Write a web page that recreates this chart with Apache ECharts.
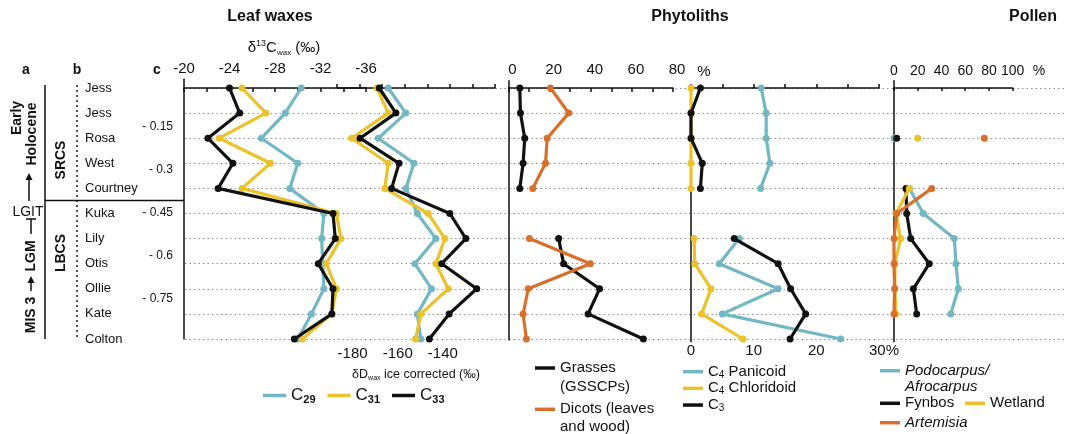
<!DOCTYPE html>
<html><head><meta charset="utf-8">
<script src="https://cdn.jsdelivr.net/npm/echarts@6/dist/echarts.min.js"></script>
<style>html,body{margin:0;padding:0;background:#fff}#c{width:1074px;height:434px}</style>
</head><body><div id="c"></div>
<script>
// ---------- data ----------
const sites = ['Jess','Jess','Rosa','West','Courtney','Kuka','Lily','Otis','Ollie','Kate','Colton'];
const depthTicks = [0.15, 0.3, 0.45, 0.6, 0.75];
const d13cTicks = [-20, -24, -28, -32, -36];
const dDTicks = [-180, -160, -140];

const d13C_C29 = [-30.3,-28.9,-26.8,-30.0,-29.3,-32.3,-32.1,-32.2,-32.3,-31.2,-30.0];
const d13C_C31 = [-25.1,-27.2,-23.1,-27.6,-25.1,-33.4,-33.8,-32.5,-33.4,-33.0,-30.4];
const d13C_C33 = [-24.0,-24.9,-22.1,-24.3,-23.0,-33.1,-33.3,-31.8,-33.1,-33.0,-29.7];

const dD_C29 = [-167.3,-159.5,-171.7,-155.9,-159.5,-154.4,-146.2,-155.5,-148.1,-154.4,-152.9];
const dD_C31 = [-172.3,-167.3,-183.5,-167.3,-168.8,-149.6,-142.2,-146.2,-140.7,-152.8,-155.2];
const dD_C33 = [-171.3,-163.9,-179.8,-162.5,-165.8,-140.0,-132.9,-143.6,-128.1,-140.3,-149.1];

const grasses = [5.5,5.8,7.9,7.1,5.5,null,24.4,26.8,44.3,38.7,65.6];
const dicots  = [20.4,29.3,18.8,18.0,11.8,null,10.2,39.8,9.6,7.1,8.7];

const panicoid   = [11.2,12.0,12.0,12.6,11.1,null,7.7,4.5,13.9,5.0,23.9];
const chloridoid = [0,0,0,0,0,null,0.5,0.6,3.2,1.7,8.3];
const c3         = [1.5,0,0,1.8,1.5,null,6.9,13.9,15.9,18.3,15.8];

const podocarpus = [null,null,0,null,12.9,24.7,50.8,52.2,54.2,47.8,null];
const fynbos     = [null,null,2.3,null,10.1,10.7,14.1,29.7,16.3,19.1,null];
const wetland    = [null,null,20.0,null,12.9,1.7,5.6,0.8,0.8,1.7,null];
const artemisia  = [null,null,76.1,null,31.8,2.3,0,0,0.5,0,null];

// ---------- style ----------
const FONT = '"Liberation Sans", Arial, Helvetica, sans-serif';
const CY = '#72b8c4', YE = '#ebc229', BK = '#111111', OR = '#d8702b';
const AX = {color:'#111', width:1.5};
const Y0 = 88, ROW = 25.1;

const grids = [
  {left:185, top:88, width:882, height:251},      // 0 background rows
  {left:184, top:79.3, width:182, height:259.7},  // 1 d13C
  {left:337, top:88, width:158, height:254.7},    // 2 dD
  {left:508.5, top:80.7, width:164.5, height:259.3}, // 3 phyto 1
  {left:691, top:86, width:188, height:255.7},    // 4 phyto 2
  {left:894, top:80.7, width:118.7, height:261},  // 5 pollen
  {left:174, top:83.8, width:1, height:257.4}     // 6 depth
];

function rowAxis(gi, showLine){
  const g = grids[gi];
  return {gridIndex:gi, type:'value', inverse:true,
    min:(g.top - Y0)/ROW, max:(g.top + g.height - Y0)/ROW,
    axisLine:{show:showLine, lineStyle:AX}, axisTick:{show:false},
    axisLabel:{show:false}, splitLine:{show:false}};
}
function ser(name, arr, color, gi, z){
  return {name, type:'line', xAxisIndex:gi, yAxisIndex:gi, z:z||2,
    data: arr.map((v,i)=>[v==null?'-':v, i]),
    lineStyle:{color, width:3.2}, itemStyle:{color},
    symbol:'circle', symbolSize:7, showSymbol:true, connectNulls:false,
    emphasis:{disabled:true}, silent:true};
}
const lblBase = {color:'#111', fontSize:15, fontFamily:FONT};
function txt(t, x, y, font, rot){
  const o = {type:'text', x, y, style:{text:t, align:'center', verticalAlign:'middle', font:font+' '+FONT, fill:'#111'}};
  if (rot) o.rotation = Math.PI/2;
  return o;
}

const option = {
  animation:false,
  backgroundColor:'#ffffff',
  textStyle:{fontFamily:FONT, color:'#111'},
  grid: grids,
  xAxis: [
    {gridIndex:0, type:'value', show:false, min:0, max:1},
    {gridIndex:1, type:'value', position:'top', min:-36, max:-20, interval:2, inverse:true,
      axisLine:{lineStyle:AX}, axisTick:{inside:true, length:4, lineStyle:AX},
      axisLabel:Object.assign({}, lblBase, {margin:3, formatter:v=> d13cTicks.indexOf(v)>=0 ? String(v) : ''}),
      splitLine:{show:false},
      name:'{n|δ}{sup|13}{n|C}{sub|wax}{n| (‰)}', nameLocation:'middle', nameGap:21,
      nameTextStyle:{padding:[0,0,0,18], rich:{n:{fontSize:15,lineHeight:17,color:'#111'},sup:{fontSize:9,lineHeight:9,verticalAlign:'top',color:'#111'},sub:{fontSize:8,lineHeight:9,verticalAlign:'bottom',color:'#111'}}}},
    {gridIndex:2, type:'value', position:'bottom', min:-190, max:-120, interval:10,
      axisLine:{lineStyle:AX}, axisTick:{inside:true, length:4, lineStyle:AX},
      axisLabel:Object.assign({}, lblBase, {margin:4, padding:[0,14,0,0], formatter:v=> dDTicks.indexOf(v)>=0 ? String(v) : ''}),
      splitLine:{show:false},
      name:'{n|δD}{sub|wax}{n| ice corrected (‰)}', nameLocation:'middle', nameGap:24,
      nameTextStyle:{rich:{n:{fontSize:12.5,lineHeight:15,color:'#111'},sub:{fontSize:7,lineHeight:9,verticalAlign:'bottom',color:'#111'}}}},
    {gridIndex:3, type:'value', position:'top', min:0, max:80, interval:10,
      axisLine:{lineStyle:AX}, axisTick:{inside:true, length:4, lineStyle:AX},
      axisLabel:Object.assign({}, lblBase, {margin:3, padding:[0,0,0,8], formatter:v=> v%20===0 ? String(v) : ''}),
      splitLine:{show:false}},
    {gridIndex:4, type:'value', position:'bottom', min:0, max:30, interval:5,
      axisLine:{lineStyle:AX}, axisTick:{inside:true, length:4, lineStyle:AX},
      axisLabel:Object.assign({}, lblBase, {margin:2, formatter:v=> v===30 ? '{p|30%}' : (v%10===0 ? String(v) : ''),
        rich:{p:{fontSize:15, color:'#111', padding:[0,0,0,10]}}}),
      splitLine:{show:false}},
    {gridIndex:5, type:'value', position:'top', min:0, max:100, interval:20,
      axisLine:{lineStyle:AX}, axisTick:{inside:true, length:3, lineStyle:AX},
      axisLabel:Object.assign({}, lblBase, {fontSize:14, margin:3}),
      splitLine:{show:false}},
    {gridIndex:6, type:'value', show:false, min:0, max:1}
  ],
  yAxis: [
    {gridIndex:0, type:'category', data:sites, inverse:true, boundaryGap:false,
      axisLine:{show:false}, axisTick:{show:false, interval:0},
      axisLabel:{align:'left', margin:100, fontSize:13, color:'#111', interval:0},
      splitLine:{show:true, interval:0, lineStyle:{color:'#8c8c8c', width:1, type:[1.5,3]}}},
    rowAxis(1, true),
    rowAxis(2, false),
    rowAxis(3, true),
    rowAxis(4, true),
    rowAxis(5, true),
    {gridIndex:6, type:'value', inverse:true, min:0, max:0.9, interval:0.15,
      axisLine:{show:false}, axisTick:{show:false}, splitLine:{show:false},
      axisLabel:{fontSize:12, color:'#111', margin:1,
        formatter:v=>{const r=+v.toFixed(2); return depthTicks.indexOf(r)>=0 ? '- '+r : '';}}}
  ],
  legend: [
    {data:['C29','C31','C33'], orient:'horizontal', left:263, top:387, padding:0,
      itemWidth:23, itemHeight:3.5, itemGap:12, icon:'rect', selectedMode:false,
      formatter:n=>'{c|C}{s|'+n.slice(1)+'}',
      textStyle:{rich:{c:{fontSize:17,lineHeight:20,color:'#111'},s:{fontSize:11,fontWeight:'bold',lineHeight:14,verticalAlign:'bottom',color:'#111'}}}},
    {data:['Grasses'], orient:'vertical', left:535, top:339.5, padding:0,
      itemWidth:20, itemHeight:3.5, icon:'rect', selectedMode:false,
      formatter:()=>' \nGrasses\n(GSSCPs)',
      textStyle:{fontSize:15, lineHeight:19, color:'#111', backgroundColor:'transparent'}},
    {data:['Dicots'], orient:'vertical', left:535, top:382.3, padding:0,
      itemWidth:20, itemHeight:3.5, icon:'rect', selectedMode:false,
      formatter:()=>' \nDicots (leaves\nand wood)',
      textStyle:{fontSize:15, lineHeight:18, color:'#111', backgroundColor:'transparent'}},
    {data:['C4 Panicoid','C4 Chloridoid','C3'], orient:'vertical', left:683, top:363.3, padding:0,
      itemWidth:20, itemHeight:3.5, itemGap:0, icon:'rect', selectedMode:false,
      formatter:n=>'{t|C}{s|'+n[1]+'}{t|'+n.slice(2)+'}',
      textStyle:{backgroundColor:'transparent', rich:{t:{fontSize:15,lineHeight:16.7,color:'#111'},s:{fontSize:10,lineHeight:12,verticalAlign:'bottom',color:'#111'}}}},
    {data:['Podocarpus/Afrocarpus'], orient:'vertical', left:880, top:346.7, padding:0,
      itemWidth:20, itemHeight:3.5, icon:'rect', selectedMode:false,
      formatter:()=>' \nPodocarpus/\nAfrocarpus',
      textStyle:{fontSize:15, fontStyle:'italic', lineHeight:16, color:'#111', backgroundColor:'transparent'}},
    {data:['Fynbos','Artemisia'], orient:'vertical', left:880, top:394.8, padding:0,
      itemWidth:20, itemHeight:3.5, itemGap:2.4, icon:'rect', selectedMode:false,
      formatter:n=> n==='Artemisia' ? '{i|Artemisia}' : '{r|'+n+'}',
      textStyle:{backgroundColor:'transparent', rich:{i:{fontSize:15,fontStyle:'italic',lineHeight:17,color:'#111'},r:{fontSize:15,lineHeight:17,color:'#111'}}}},
    {data:['Wetland'], orient:'vertical', left:965, top:394.8, padding:0,
      itemWidth:20, itemHeight:3.5, icon:'rect', selectedMode:false,
      textStyle:{fontSize:15, lineHeight:17, color:'#111', backgroundColor:'transparent'}}
  ],
  series: [
    ser('C29', d13C_C29, CY, 1, 2), ser('C31', d13C_C31, YE, 1, 3), ser('C33', d13C_C33, BK, 1, 4),
    ser('C29', dD_C29, CY, 2, 2), ser('C31', dD_C31, YE, 2, 3), ser('C33', dD_C33, BK, 2, 4),
    ser('Grasses', grasses, BK, 3, 2), ser('Dicots', dicots, OR, 3, 3),
    ser('C4 Panicoid', panicoid, CY, 4, 2), ser('C4 Chloridoid', chloridoid, YE, 4, 3), ser('C3', c3, BK, 4, 4),
    ser('Podocarpus/Afrocarpus', podocarpus, CY, 5, 2), ser('Fynbos', fynbos, BK, 5, 3),
    ser('Wetland', wetland, YE, 5, 4), ser('Artemisia', artemisia, OR, 5, 5)
  ],
  graphic: [
    txt('Leaf waxes', 270, 17, 'bold 16px'),
    txt('Phytoliths', 690, 17, 'bold 16px'),
    txt('Pollen', 1033, 17, 'bold 16px'),
    txt('%', 704, 71.5, '15px'),
    txt('%', 1039, 71.5, '14px'),
    txt('a', 26, 70, 'bold 14px'),
    txt('b', 77, 70, 'bold 14px'),
    txt('c', 157, 70, 'bold 14px'),
    {type:'line', shape:{x1:45,y1:85,x2:45,y2:339}, style:{stroke:'#111', lineWidth:1.5}},
    {type:'line', shape:{x1:45,y1:200.5,x2:184,y2:200.5}, style:{stroke:'#111', lineWidth:1.5}},
    {type:'line', shape:{x1:77,y1:85,x2:77,y2:339}, style:{stroke:'#111', lineWidth:1.5, lineDash:[2,3]}},
    txt('Early', 17, 118, 'bold 14px', true),
    txt('Holocene', 32, 134, 'bold 14px', true),
    {type:'line', shape:{x1:29,y1:201,x2:29,y2:179}, style:{stroke:'#111', lineWidth:1.5}},
    {type:'polygon', shape:{points:[[25.5,180],[32.5,180],[29,173]]}, style:{fill:'#111'}},
    txt('LGIT', 28, 212, '14px'),
    {type:'line', shape:{x1:31,y1:234,x2:31,y2:219}, style:{stroke:'#111', lineWidth:1.5}},
    {type:'line', shape:{x1:26,y1:219,x2:36,y2:219}, style:{stroke:'#111', lineWidth:1.5}},
    txt('LGM', 31, 256, 'bold 14px', true),
    {type:'line', shape:{x1:31,y1:291,x2:31,y2:282}, style:{stroke:'#111', lineWidth:1.5}},
    {type:'polygon', shape:{points:[[27.5,283],[34.5,283],[31,276]]}, style:{fill:'#111'}},
    txt('MIS 3', 31, 315, 'bold 14px', true),
    txt('SRCS', 61, 160, 'bold 14px', true),
    txt('LBCS', 61, 253, 'bold 14px', true)
  ]
};
const chart = echarts.init(document.getElementById('c'), null, {renderer:'canvas'});
chart.setOption(option);
</script>
</body></html>
